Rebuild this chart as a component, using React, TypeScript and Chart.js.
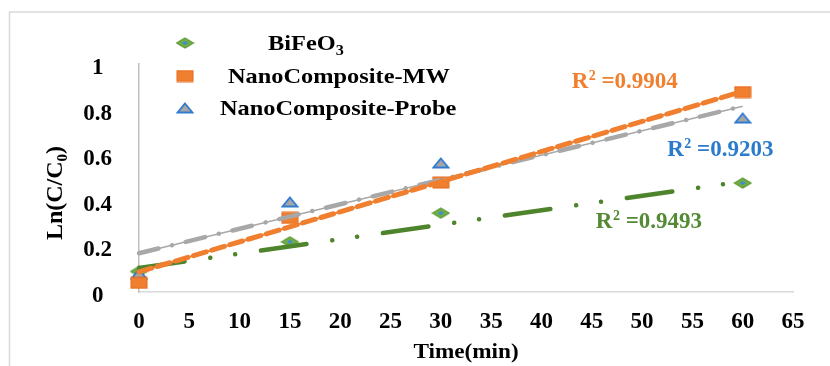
import React, { useEffect, useRef } from "react";
import { Chart, registerables } from "chart.js";

Chart.register(...registerables);

// ---- data ----
const timeMin = [0, 15, 30, 60];
const bifeo3 = [0.09, 0.22, 0.346, 0.478];
const nanoMW = [0.04, 0.325, 0.48, 0.877];
const nanoProbe = [0.079, 0.395, 0.566, 0.763];

const trendX = [0, 60];
const trendBiFeO3 = [0.105, 0.485];
const trendMW = [0.088, 0.88];
const trendProbe = [0.17, 0.815];

const seriesNames = ["BiFeO", "NanoComposite-MW", "NanoComposite-Probe"];
const r2Values = ["0.9904", "0.9203", "0.9493"];

const FONT = "'Liberation Serif', 'Times New Roman', serif";
const ORANGE = "#F07F2F";
const GREEN = "#4E852C";
const BLUE = "#2A7BCB";
const GRAY = "#A8A8A8";

function pts(xs: number[], ys: number[]) {
  return xs.map((x, i) => ({ x, y: ys[i] }));
}

function makeDiamond() {
  const c = document.createElement("canvas");
  c.width = 19;
  c.height = 12;
  const g = c.getContext("2d")!;
  g.beginPath();
  g.moveTo(9.5, 1);
  g.lineTo(18, 6);
  g.lineTo(9.5, 11);
  g.lineTo(1, 6);
  g.closePath();
  g.fillStyle = "#72AE46";
  g.fill();
  g.strokeStyle = "#5C9A34";
  g.lineWidth = 1.2;
  g.stroke();
  g.beginPath();
  g.moveTo(9.5, 4);
  g.lineTo(12.5, 6);
  g.lineTo(9.5, 8);
  g.lineTo(6.5, 6);
  g.closePath();
  g.fillStyle = "#3E8AD8";
  g.fill();
  return c;
}

function makeSquare() {
  const c = document.createElement("canvas");
  c.width = 18;
  c.height = 13;
  const g = c.getContext("2d")!;
  g.fillStyle = ORANGE;
  g.fillRect(1, 1, 16, 11);
  g.strokeStyle = "#E56A1C";
  g.lineWidth = 1;
  g.strokeRect(1, 1, 16, 11);
  return c;
}

function makeTriangle() {
  const c = document.createElement("canvas");
  c.width = 18;
  c.height = 12;
  const g = c.getContext("2d")!;
  g.beginPath();
  g.moveTo(9, 1.5);
  g.lineTo(16.5, 10.5);
  g.lineTo(1.5, 10.5);
  g.closePath();
  g.fillStyle = "#A6A6A6";
  g.fill();
  g.strokeStyle = "#2E7BD0";
  g.lineWidth = 1.8;
  g.stroke();
  return c;
}

export default function App() {
  const ref = useRef<HTMLCanvasElement | null>(null);

  useEffect(() => {
    if (!ref.current) return;
    const diamond = makeDiamond();
    const square = makeSquare();
    const triangle = makeTriangle();

    const r2Anno = [
      { text: r2Values[0], x: 43.0, y: 0.895, color: ORANGE },
      { text: r2Values[1], x: 52.5, y: 0.596, color: BLUE },
      { text: r2Values[2], x: 45.4, y: 0.281, color: "#538A33" },
    ];

    const decor = {
      id: "decor",
      afterDraw(chart: any) {
        const ctx = chart.ctx as CanvasRenderingContext2D;
        const xs = chart.scales.x;
        const ys = chart.scales.y;
        ctx.save();
        // outer frame
        ctx.strokeStyle = "#D9D9D9";
        ctx.lineWidth = 1.5;
        ctx.beginPath();
        ctx.moveTo(9.5, 366);
        ctx.lineTo(9.5, 12);
        ctx.lineTo(830, 12);
        ctx.stroke();

        ctx.fillStyle = "#000";
        ctx.textBaseline = "alphabetic";
        ctx.textAlign = "left";

        // legend
        const legendItems = [
          { img: diamond, label: seriesNames[0], sub: "3", tx: 268, cy: 43 },
          { img: square, label: seriesNames[1], sub: "", tx: 228, cy: 76 },
          { img: triangle, label: seriesNames[2], sub: "", tx: 220, cy: 108 },
        ];
        const stretch = 1.16;
        legendItems.forEach((it) => {
          ctx.drawImage(it.img, 185 - it.img.width / 2, it.cy - it.img.height / 2);
          const base = it.cy + 7;
          ctx.save();
          ctx.translate(it.tx, base);
          ctx.scale(stretch, 1);
          ctx.font = `bold 21px ${FONT}`;
          ctx.fillText(it.label, 0, 0);
          const w = ctx.measureText(it.label).width;
          if (it.sub) {
            ctx.font = `bold 14px ${FONT}`;
            ctx.fillText(it.sub, w, 5);
          }
          ctx.restore();
        });

        // x title
        ctx.save();
        ctx.font = `bold 20px ${FONT}`;
        const tt = "Time(min)";
        const tw = ctx.measureText(tt).width;
        ctx.translate((xs.left + xs.right) / 2, 358);
        ctx.scale(1.16, 1);
        ctx.fillText(tt, -tw / 2, 0);
        ctx.restore();

        // y title with subscript
        ctx.save();
        ctx.translate(56, 193);
        ctx.rotate(-Math.PI / 2);
        ctx.font = `bold 24px ${FONT}`;
        const p1 = "Ln(C/C";
        const p3 = ")";
        const w1 = ctx.measureText(p1).width;
        const w3 = ctx.measureText(p3).width;
        ctx.font = `bold 15px ${FONT}`;
        const w2 = ctx.measureText("0").width;
        const total = w1 + w2 + w3;
        const x0 = -total / 2;
        ctx.font = `bold 24px ${FONT}`;
        ctx.fillText(p1, x0, 5.5);
        ctx.font = `bold 15px ${FONT}`;
        ctx.fillText("0", x0 + w1, 10.5);
        ctx.font = `bold 24px ${FONT}`;
        ctx.fillText(p3, x0 + w1 + w2, 5.5);
        ctx.restore();

        // R² labels
        r2Anno.forEach((a) => {
          const px = xs.getPixelForValue(a.x);
          const py = ys.getPixelForValue(a.y);
          ctx.fillStyle = a.color;
          ctx.font = `bold 23px ${FONT}`;
          ctx.fillText("R", px, py);
          const wr = ctx.measureText("R").width;
          ctx.font = `bold 14px ${FONT}`;
          ctx.fillText("2", px + wr + 0.5, py - 8);
          const ws = ctx.measureText("2").width;
          ctx.font = `bold 23px ${FONT}`;
          ctx.fillText(" =" + a.text, px + wr + ws + 0.5, py);
        });
        ctx.restore();
      },
    };

    const chart = new Chart(ref.current, {
      type: "scatter",
      data: {
        datasets: [
          {
            type: "line",
            label: "trend MW base",
            data: pts(trendX, trendMW),
            borderColor: ORANGE,
            borderWidth: 2,
            pointRadius: 0,
            order: 0,
            clip: false,
          } as any,
          {
            type: "line",
            label: "trend MW",
            data: pts(trendX, trendMW),
            borderColor: ORANGE,
            borderWidth: 5,
            borderDash: [13, 6],
            borderCapStyle: "round",
            pointRadius: 0,
            order: 0,
            clip: false,
          } as any,
          {
            type: "line",
            label: "trend Probe base",
            data: pts(trendX, trendProbe),
            borderColor: GRAY,
            borderWidth: 1.5,
            pointRadius: 0,
            order: 0,
            clip: false,
          } as any,
          {
            type: "line",
            label: "trend Probe",
            data: pts(trendX, trendProbe),
            borderColor: GRAY,
            borderWidth: 4.5,
            borderDash: [20, 14, 0.1, 14],
            borderCapStyle: "round",
            pointRadius: 0,
            order: 0,
            clip: false,
          } as any,
          {
            type: "line",
            label: "trend BiFeO3",
            data: pts(trendX, trendBiFeO3),
            borderColor: GREEN,
            borderWidth: 4.5,
            borderDash: [46, 26, 0.1, 25, 0.1, 26],
            borderCapStyle: "round",
            pointRadius: 0,
            order: 0,
            clip: false,
          } as any,
          {
            label: "NanoComposite-MW",
            data: pts(timeMin, nanoMW),
            pointStyle: square,
            pointRadius: 7,
            order: 1,
            clip: false,
          } as any,
          {
            label: "NanoComposite-Probe",
            data: pts(timeMin, nanoProbe),
            pointStyle: triangle,
            pointRadius: 7,
            order: 2,
            clip: false,
          } as any,
          {
            label: "BiFeO3",
            data: pts(timeMin, bifeo3),
            pointStyle: diamond,
            pointRadius: 7,
            order: 3,
            clip: false,
          } as any,
        ],
      },
      options: {
        animation: false,
        responsive: true,
        maintainAspectRatio: false,
        layout: { padding: { left: 0, top: 64, right: 37, bottom: 0 } },
        plugins: {
          legend: { display: false },
          tooltip: { enabled: false },
          title: { display: false },
        },
        scales: {
          x: {
            type: "linear",
            min: 0,
            max: 65,
            grid: { display: false, drawTicks: false },
            border: { display: true, color: "#D9D9D9", width: 1.5 },
            ticks: {
              stepSize: 5,
              color: "#000",
              padding: 16,
              font: { family: FONT, size: 23, weight: "bold" },
            },
            afterFit(scale: any) {
              scale.height = 74;
            },
          },
          y: {
            type: "linear",
            min: 0,
            max: 1,
            grid: { display: false, drawTicks: false },
            border: { display: true, color: "#BFBFBF", width: 1.5 },
            ticks: {
              stepSize: 0.2,
              color: "#000",
              padding: 27,
              crossAlign: "center",
              labelOffset: 4,
              font: { family: FONT, size: 23, weight: "bold" },
              callback: (v: any) => String(Number(Number(v).toFixed(1))),
            },
            afterFit(scale: any) {
              scale.width = 139;
            },
          },
        },
      } as any,
      plugins: [decor],
    });

    return () => chart.destroy();
  }, []);

  return (
    <div style={{ position: "fixed", left: 0, top: 0, width: 830, height: 366, background: "#fff" }}>
      <canvas ref={ref} />
    </div>
  );
}
